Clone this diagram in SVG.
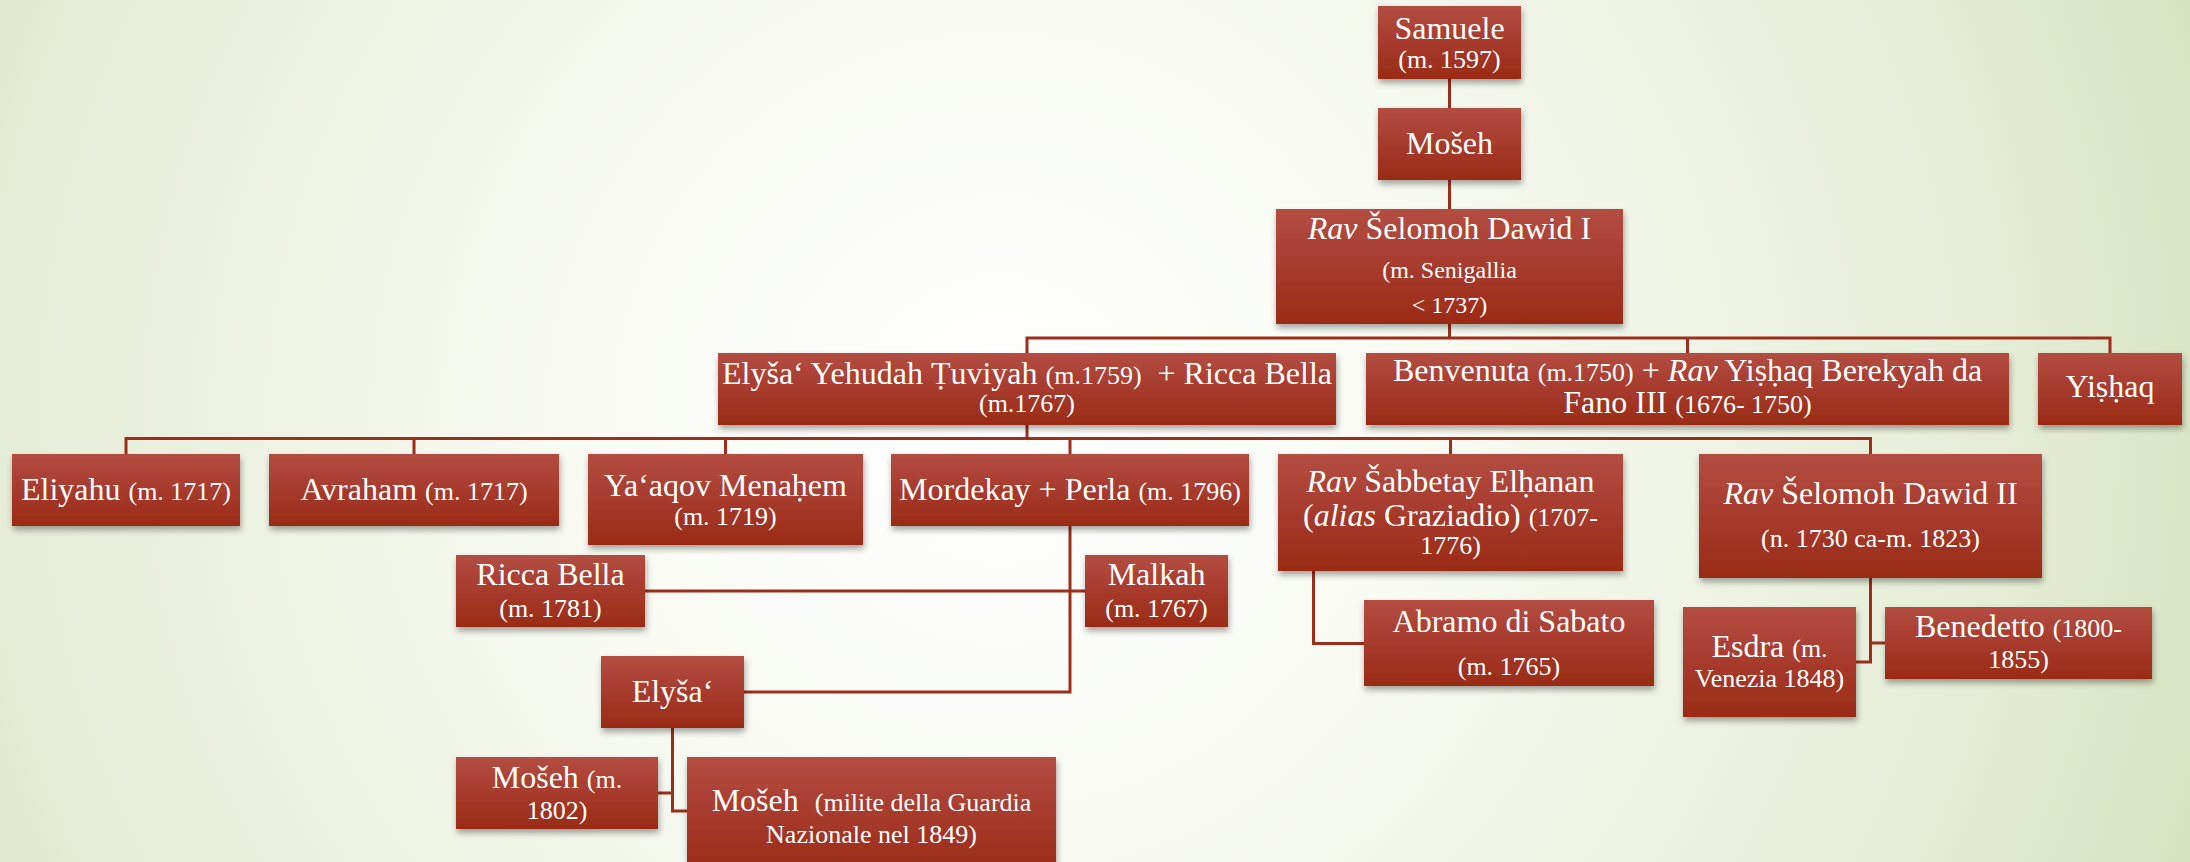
<svg xmlns="http://www.w3.org/2000/svg" width="2190" height="862" viewBox="0 0 2190 862">
<defs>
<radialGradient id="bg" gradientUnits="userSpaceOnUse" cx="1000" cy="420" r="1260">
<stop offset="0" stop-color="#ffffff"/>
<stop offset="0.35" stop-color="#f8faf2"/>
<stop offset="0.8" stop-color="#e5edd6"/>
<stop offset="1" stop-color="#d6e3c0"/>
</radialGradient>
<linearGradient id="box" x1="0" y1="0" x2="0" y2="1">
<stop offset="0" stop-color="#b34d41"/>
<stop offset="0.55" stop-color="#a6392b"/>
<stop offset="1" stop-color="#9a2b15"/>
</linearGradient>
<filter id="sh" x="-10%" y="-15%" width="125%" height="150%">
<feDropShadow dx="1" dy="4" stdDeviation="3" flood-color="#000" flood-opacity="0.35"/>
</filter>
</defs>
<style>
.n{fill:url(#box);filter:url(#sh);}
.t{font-family:"Liberation Serif","Times New Roman",serif;fill:#ffffff;text-anchor:middle;}
.b{font-size:32px;}
.s{font-size:26px;}
.m{font-size:24px;}
.i{font-style:italic;}
.c{fill:none;stroke:#9c2e1b;stroke-width:3;}
</style>
<rect x="0" y="0" width="2190" height="862" fill="url(#bg)"/>
<g id="connectors">
<path class="c" d="M1449.5,79V108M1449.5,180V209M1449.5,324V338"/>
<path class="c" d="M1027,353V338H2110V353M1687.5,338V353"/>
<path class="c" d="M1027,425V438.5"/>
<path class="c" d="M126,454V438.5H1870.5V454M414,438.5V454M725.5,438.5V454M1070,438.5V454M1450.5,438.5V454"/>
<path class="c" d="M1070,526V692H744"/>
<path class="c" d="M645,591H1085"/>
<path class="c" d="M672.5,728V811H687M658,793H672.5"/>
<path class="c" d="M1313.5,571V643.5H1364"/>
<path class="c" d="M1870.5,578V662H1856M1870.5,643H1885"/>
</g>
<g id="samuele"><rect class="n" x="1378" y="6" width="143" height="73"/>
<text class="t b" x="1449.5" y="39">Samuele</text>
<text class="t s" x="1449.5" y="68">(m. 1597)</text></g>
<g id="mosheh1"><rect class="n" x="1378" y="108" width="143" height="72"/>
<text class="t b" x="1449.5" y="154">Mošeh</text></g>
<g id="shelomoh1"><rect class="n" x="1276" y="209" width="347" height="115"/>
<text class="t b" x="1449.5" y="239"><tspan class="i">Rav</tspan> Šelomoh Dawid I</text>
<text class="t m" x="1449.5" y="278">(m. Senigallia</text>
<text class="t m" x="1449.5" y="313">&lt; 1737)</text></g>
<g id="elysha-yehudah"><rect class="n" x="718" y="353" width="618" height="72"/>
<text class="t b" x="1027" y="384" xml:space="preserve">Elyša‘ Yehudah Ṭuviyah <tspan class="s">(m.1759)</tspan>  + Ricca Bella</text>
<text class="t s" x="1027" y="412">(m.1767)</text></g>
<g id="benvenuta"><rect class="n" x="1366" y="353" width="643" height="72"/>
<text class="t b" x="1687.5" y="381">Benvenuta <tspan class="s">(m.1750)</tspan> + <tspan class="i">Rav</tspan> Yiṣḥaq Berekyah da</text>
<text class="t b" x="1687.5" y="413">Fano III <tspan class="s">(1676- 1750)</tspan></text></g>
<g id="yishaq"><rect class="n" x="2038" y="353" width="144" height="72"/>
<text class="t b" x="2110" y="397">Yiṣḥaq</text></g>
<g id="eliyahu"><rect class="n" x="12" y="454" width="228" height="72"/>
<text class="t b" x="126" y="500">Eliyahu <tspan class="s">(m. 1717)</tspan></text></g>
<g id="avraham"><rect class="n" x="269" y="454" width="290" height="72"/>
<text class="t b" x="414" y="500">Avraham <tspan class="s">(m. 1717)</tspan></text></g>
<g id="yaaqov"><rect class="n" x="588" y="454" width="275" height="91"/>
<text class="t b" x="725.5" y="496">Ya‘aqov Menaḥem</text>
<text class="t s" x="725.5" y="525">(m. 1719)</text></g>
<g id="mordekay"><rect class="n" x="891" y="454" width="358" height="72"/>
<text class="t b" x="1070" y="500">Mordekay + Perla <tspan class="s">(m. 1796)</tspan></text></g>
<g id="shabbetay"><rect class="n" x="1278" y="454" width="345" height="117"/>
<text class="t b" x="1450.5" y="492"><tspan class="i">Rav</tspan> Šabbetay Elḥanan</text>
<text class="t b" x="1450.5" y="526">(<tspan class="i">alias</tspan> Graziadio) <tspan class="s">(1707-</tspan></text>
<text class="t s" x="1450.5" y="554">1776)</text></g>
<g id="shelomoh2"><rect class="n" x="1699" y="454" width="343" height="124"/>
<text class="t b" x="1870.5" y="504"><tspan class="i">Rav</tspan> Šelomoh Dawid II</text>
<text class="t s" x="1870.5" y="547">(n. 1730 ca-m. 1823)</text></g>
<g id="ricca-bella"><rect class="n" x="456" y="555" width="189" height="72"/>
<text class="t b" x="550.5" y="585">Ricca Bella</text>
<text class="t s" x="550.5" y="617">(m. 1781)</text></g>
<g id="malkah"><rect class="n" x="1085" y="555" width="143" height="72"/>
<text class="t b" x="1156.5" y="585">Malkah</text>
<text class="t s" x="1156.5" y="617">(m. 1767)</text></g>
<g id="abramo"><rect class="n" x="1364" y="600" width="290" height="86"/>
<text class="t b" x="1509" y="632">Abramo di Sabato</text>
<text class="t s" x="1509" y="675">(m. 1765)</text></g>
<g id="esdra"><rect class="n" x="1683" y="607" width="173" height="110"/>
<text class="t b" x="1769.5" y="657">Esdra <tspan class="s">(m.</tspan></text>
<text class="t s" x="1769.5" y="687">Venezia 1848)</text></g>
<g id="benedetto"><rect class="n" x="1885" y="607" width="267" height="72"/>
<text class="t b" x="2018.5" y="637">Benedetto <tspan class="s">(1800-</tspan></text>
<text class="t s" x="2018.5" y="668">1855)</text></g>
<g id="elysha"><rect class="n" x="601" y="656" width="143" height="72"/>
<text class="t b" x="672.5" y="702">Elyša‘</text></g>
<g id="mosheh-1802"><rect class="n" x="456" y="757" width="202" height="72"/>
<text class="t b" x="557" y="788">Mošeh <tspan class="s">(m.</tspan></text>
<text class="t s" x="557" y="819">1802)</text></g>
<g id="mosheh-milite"><rect class="n" x="687" y="757" width="369" height="115"/>
<text class="t b" x="871.5" y="811" xml:space="preserve">Mošeh  <tspan class="s">(milite della Guardia</tspan></text>
<text class="t s" x="871.5" y="843">Nazionale nel 1849)</text></g>
</svg>
